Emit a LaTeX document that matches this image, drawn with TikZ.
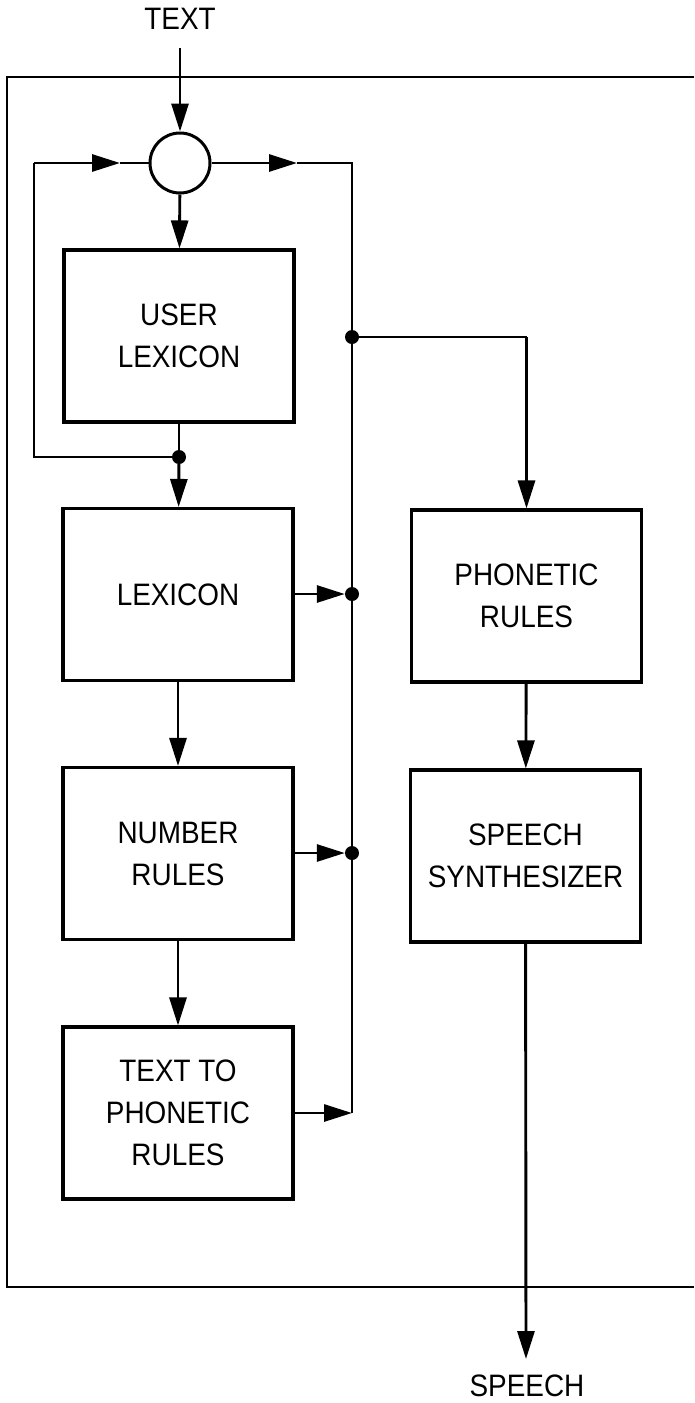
\documentclass[tikz,border=0pt]{standalone}
\usepackage{fontspec}
\setmainfont{Liberation Sans}[FakeStretch=0.9]
\usetikzlibrary{arrows.meta}
\begin{document}
\begin{tikzpicture}[x=1pt,y=-1pt,
  every node/.style={font=\fontsize{31}{42}\selectfont},
  wire/.style={line width=2.9pt},
  arr/.style={wire,-{Triangle[length=28pt,width=17pt]}},
  blk/.style={draw,line width=3.1pt,minimum width=230pt,minimum height=172pt,align=center,inner sep=0pt},
  dot/.style={circle,fill=black,inner sep=0pt,minimum size=14pt},
  lbl/.style={inner sep=0pt}]
\useasboundingbox (0,0) rectangle (694,1403);
\fill[white] (0,0) rectangle (694,1403);
% outer frame
\coordinate (ftr) at (694,77);
\coordinate (ftl) at (7,77);
\coordinate (fbl) at (7,1287);
\coordinate (fbr) at (694,1287);
\draw[wire] (ftr) -- (ftl) -- (fbl) -- (fbr);
% labels
\node[lbl] (tin) at (180,19) {TEXT};
\node[lbl] (sout) at (527,1386) {SPEECH};
% circle
\node[draw,circle,line width=3pt,minimum size=60pt,inner sep=0pt] (c) at (180,163) {};
% blocks
\node[blk] (ul) at (179,336) {USER\\LEXICON};
\node[blk] (lex) at (178,594.5) {LEXICON};
\node[blk] (num) at (178,853.5) {NUMBER\\RULES};
\node[blk] (ttp) at (178,1113) {TEXT TO\\PHONETIC\\RULES};
\node[blk] (pr) at (526.5,596) {PHONETIC\\RULES};
\node[blk] (ss) at (525.5,856) {SPEECH\\SYNTHESIZER};
% dots
\node[dot] (d0) at (179,457) {};
\node[dot] (d1) at (352,337) {};
\node[dot] (d2) at (352,594) {};
\node[dot] (d3) at (352,853) {};
% coordinates
\coordinate (ts) at (180,48);
\coordinate (ra) at (297,163);
\coordinate (cr) at (352,163);
\coordinate (tend) at (352,1113);
\coordinate (lb) at (34,457);
\coordinate (lt) at (34,163);
\coordinate (la) at (120,163);
\coordinate (pc) at (526.5,337);
\coordinate (spt) at (526,1359);
% connectors
\draw[arr] (ts) -- (c);
\draw[arr] (c) -- (ul);
\draw[arr] (c.east) -- (ra);
\draw[wire] (ra) -- (cr) -- (tend);
\draw[wire] (ul) -- (d0);
\draw[wire] (d0) -- (lb) -- (lt);
\draw[arr] (lt) -- (la);
\draw[wire] (la) -- (c.west);
\draw[arr] (d0) -- (lex);
\draw[arr] (lex) -- (num);
\draw[arr] (num) -- (ttp);
\draw[arr] (lex.east |- d2) -- (d2);
\draw[arr] (num.east |- d3) -- (d3);
\draw[arr] (ttp.east |- tend) -- (tend);
\draw[wire] (d1) -- (pc);
\draw[arr] (pc) -- (pr);
\draw[arr] (pr) -- (ss);
\draw[arr] (ss) -- (spt);
\end{tikzpicture}
\end{document}
